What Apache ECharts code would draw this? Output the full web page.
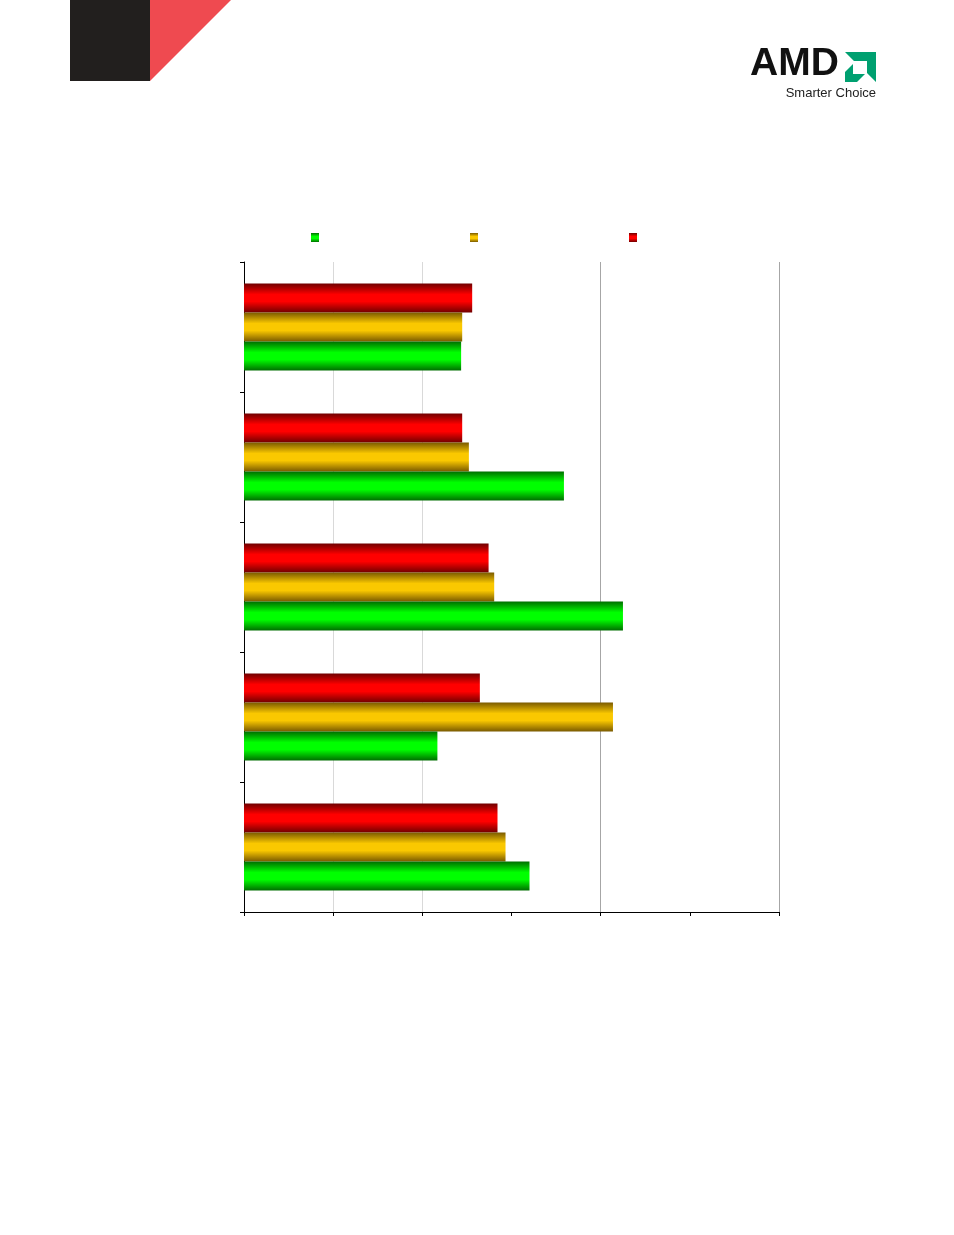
<!DOCTYPE html>
<html>
<head>
<meta charset="utf-8">
<script src="https://cdn.jsdelivr.net/npm/echarts@6/dist/echarts.min.js"></script>
<style>
html,body{margin:0;padding:0;background:#fff;}
#chart{width:954px;height:1235px;}
</style>
</head>
<body>
<div id="chart"></div>
<script>
// Data (top category first)
var categories = ['Test 1', 'Test 2', 'Test 3', 'Test 4', 'Test 5'];
var seriesNames = ['Series A', 'Series B', 'Series C'];
var greenValues  = [2.435, 3.588, 4.250, 2.169, 3.202];
var yellowValues = [2.447, 2.522, 2.806, 4.138, 2.933];
var redValues    = [2.559, 2.447, 2.743, 2.645, 2.843];
var xTicks = [0, 1, 2, 3, 4, 5, 6];

function grad(edge, mid) {
  return new echarts.graphic.LinearGradient(0, 0, 0, 1, [
    {offset: 0, color: edge},
    {offset: 0.38, color: mid},
    {offset: 0.62, color: mid},
    {offset: 1, color: edge}
  ]);
}
var greenFill = grad('#006e00', '#00ff00');
var yellowFill = grad('#7a5a00', '#fac800');
var redFill = grad('#700000', '#ff0000');

var chart = echarts.init(document.getElementById('chart'), null, {renderer: 'canvas'});

function legendAt(name, left) {
  return {
    data: [{name: name, icon: 'rect'}], left: left, top: 233, itemWidth: 8, itemHeight: 9,
    selectedMode: false, formatter: function () { return ''; },
    textStyle: {fontSize: 1}, padding: 0
  };
}

var option = {
  animation: false,
  backgroundColor: '#ffffff',
  legend: [legendAt(seriesNames[0], 311), legendAt(seriesNames[1], 470), legendAt(seriesNames[2], 629)],
  grid: {left: 244, top: 262, width: 535, height: 650, containLabel: false},
  xAxis: {
    type: 'value', min: xTicks[0], max: xTicks[xTicks.length - 1], interval: 1,
    axisLine: {show: true, lineStyle: {color: '#000', width: 1}},
    axisTick: {show: true, length: 4, lineStyle: {color: '#000'}},
    axisLabel: {show: false},
    splitLine: {show: true, lineStyle: {width: 1,
      color: ['rgba(0,0,0,0)', '#d9d9d9', '#d9d9d9', 'rgba(0,0,0,0)', '#a6a6a6', 'rgba(0,0,0,0)', '#a6a6a6']}}
  },
  yAxis: {
    type: 'category', data: categories, inverse: true,
    axisLine: {show: true, lineStyle: {color: '#000', width: 1}},
    axisTick: {show: true, length: 4, lineStyle: {color: '#000'}},
    axisLabel: {show: false},
    splitLine: {show: false}
  },
  series: [
    {name: seriesNames[2], type: 'bar', data: redValues, barWidth: 29, barGap: '0%', itemStyle: {color: redFill}},
    {name: seriesNames[1], type: 'bar', data: yellowValues, barWidth: 29, barGap: '0%', itemStyle: {color: yellowFill}},
    {name: seriesNames[0], type: 'bar', data: greenValues, barWidth: 29, barGap: '0%', itemStyle: {color: greenFill}}
  ],
  graphic: [
    {type: 'rect', shape: {x: 70, y: 0, width: 80, height: 81}, style: {fill: '#221f1e'}},
    {type: 'polygon', shape: {points: [[150, 0], [231, 0], [150, 81]]}, style: {fill: '#ef4a50'}},
    {type: 'text', style: {text: 'AMD', x: 750, y: 84, textVerticalAlign: 'bottom', verticalAlign: 'bottom',
      font: 'bold 39px "Liberation Sans", Arial, sans-serif', fill: '#111'}},
    {type: 'polygon', shape: {points: [[845, 52], [876, 52], [876, 82], [867, 73], [867, 61], [854, 61]]}, style: {fill: '#00a070'}},
    {type: 'polygon', shape: {points: [[845, 72], [853, 64], [853, 74], [865, 74], [857, 82], [845, 82]]}, style: {fill: '#00a070'}},
    {type: 'text', style: {text: 'Smarter Choice', x: 876, y: 100, align: 'right', textAlign: 'right',
      verticalAlign: 'bottom', textVerticalAlign: 'bottom',
      font: '13px "Liberation Sans", Arial, sans-serif', fill: '#222'}}
  ]
};
chart.setOption(option);
</script>
</body>
</html>
